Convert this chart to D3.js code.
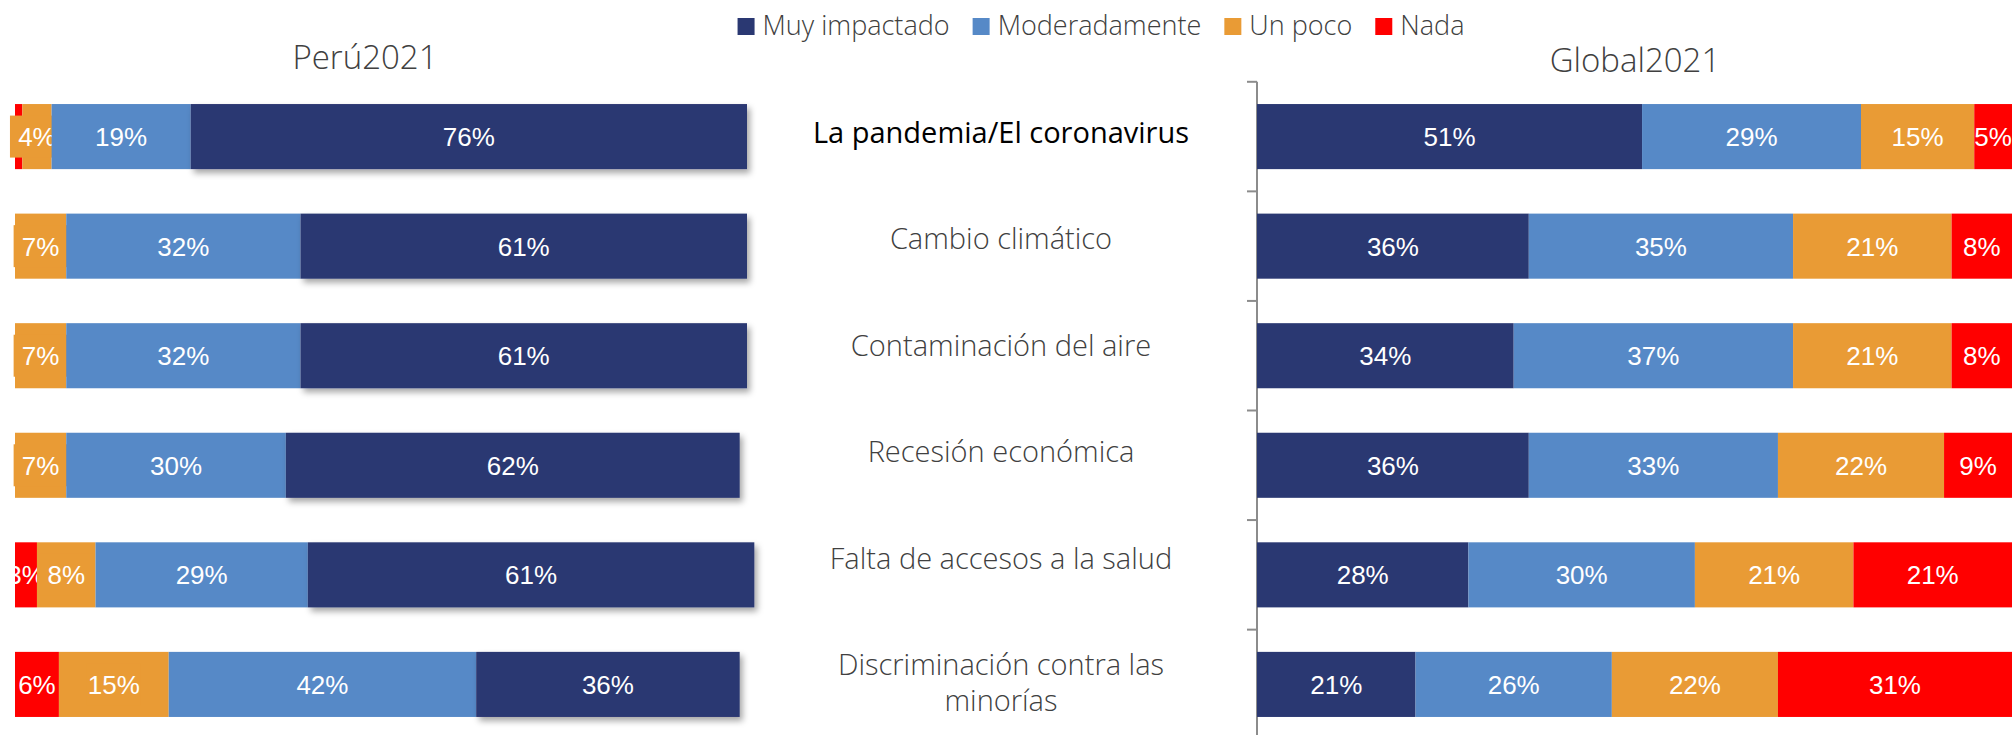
<!DOCTYPE html>
<html><head><meta charset="utf-8">
<script src="https://cdn.jsdelivr.net/npm/d3@7/dist/d3.min.js"></script>
<style>body{margin:0;background:#fff} svg{display:block}</style>
</head><body>
<svg id="chart" width="2012" height="735"></svg>
<script>
// ---------- data ----------
const categories = [
  "La pandemia/El coronavirus",
  "Cambio climático",
  "Contaminación del aire",
  "Recesión económica",
  "Falta de accesos a la salud",
  "Discriminación contra las minorías"
];
const categoryLines = [
  ["La pandemia/El coronavirus"],
  ["Cambio climático"],
  ["Contaminación del aire"],
  ["Recesión económica"],
  ["Falta de accesos a la salud"],
  ["Discriminación contra las", "minorías"]
];
const seriesNames = ["Muy impactado", "Moderadamente", "Un poco", "Nada"];
const seriesKeys  = ["muy", "mod", "poco", "nada"];
const seriesColors = ["#2A3872", "#5689C7", "#E99B35", "#FF0000"];

const peruMuy  = [76, 61, 61, 62, 61, 36];
const peruMod  = [19, 32, 32, 30, 29, 42];
const peruPoco = [4, 7, 7, 7, 8, 15];
const peruNada = [1, 0, 0, 0, 3, 6];

const globalMuy  = [51, 36, 34, 36, 28, 21];
const globalMod  = [29, 35, 37, 33, 30, 26];
const globalPoco = [15, 21, 21, 22, 21, 22];
const globalNada = [5, 8, 8, 9, 21, 31];

const panelTitles = ["Perú2021", "Global2021"];

// ---------- setup ----------
const svg = d3.select("#chart");
const lightFont = "'Open Sans', 'Segoe UI', sans-serif";
const labelFont = "'Liberation Sans', Arial, sans-serif";
const color = d3.scaleOrdinal().domain(seriesKeys).range(seriesColors);

const peruRows = categories.map((c, i) => ({cat: c, muy: peruMuy[i], mod: peruMod[i], poco: peruPoco[i], nada: peruNada[i]}));
const globalRows = categories.map((c, i) => ({cat: c, muy: globalMuy[i], mod: globalMod[i], poco: globalPoco[i], nada: globalNada[i]}));

const y = d3.scaleBand().domain(categories).range([81.8, 739.2]).paddingInner(0.406).paddingOuter(0.203);
const xPeru = d3.scaleLinear().domain([0, 100]).range([15, 747]);
const xGlobal = d3.scaleLinear().domain([0, 100]).range([1257, 2012]);

const defs = svg.append("defs");
const f = defs.append("filter").attr("id", "shadow").attr("x", "-5%").attr("y", "-20%").attr("width", "115%").attr("height", "150%");
f.append("feDropShadow").attr("dx", 3).attr("dy", 4).attr("stdDeviation", 3).attr("flood-color", "#000").attr("flood-opacity", 0.35);
defs.append("clipPath").attr("id", "peruClip").append("rect").attr("x", 15).attr("y", 0).attr("width", 1000).attr("height", 735);

// ---------- legend (centred) ----------
const legend = svg.append("g");
let lx = 0;
seriesNames.forEach((name, i) => {
  legend.append("rect").attr("x", lx).attr("y", 18).attr("width", 17).attr("height", 17).attr("fill", seriesColors[i]);
  const t = legend.append("text").attr("x", lx + 25).attr("y", 35)
    .attr("font-family", lightFont).attr("font-weight", 300).attr("font-size", 27).attr("fill", "#404040").text(name);
  lx += 25 + t.node().getComputedTextLength() + (i < seriesNames.length - 1 ? 23 : 0);
});
legend.attr("transform", `translate(${1101 - lx / 2},0)`);

// ---------- titles ----------
svg.append("text").attr("x", 365).attr("y", 69).attr("text-anchor", "middle")
  .attr("font-family", lightFont).attr("font-weight", 300).attr("font-size", 33).attr("fill", "#404040").text(panelTitles[0]);
svg.append("text").attr("x", 1635).attr("y", 72).attr("text-anchor", "middle")
  .attr("font-family", lightFont).attr("font-weight", 300).attr("font-size", 33).attr("fill", "#404040").text(panelTitles[1]);

// ---------- global axis ----------
const axisG = svg.append("g");
const bounds = categories.map(c => y(c) - y.step() * y.paddingInner() / 2);
bounds.push(bounds[bounds.length - 1] + y.step());
axisG.append("line").attr("x1", 1257).attr("x2", 1257).attr("y1", bounds[0]).attr("y2", bounds[bounds.length - 1])
  .attr("stroke", "#8c8c8c").attr("stroke-width", 2);
axisG.selectAll("line.tick").data(bounds).join("line").attr("class", "tick")
  .attr("x1", 1247).attr("x2", 1257).attr("y1", d => d).attr("y2", d => d)
  .attr("stroke", "#8c8c8c").attr("stroke-width", 2);

// ---------- bars ----------
function drawPanel(rows, keys, x, isPeru) {
  const stacked = d3.stack().keys(keys)(rows);
  const panel = svg.append("g");
  stacked.forEach(s => {
    const g = panel.append("g");
    g.selectAll("rect.seg").data(s.filter(d => d[1] - d[0] > 0)).join("rect").attr("class", "seg")
      .attr("x", d => x(d[0])).attr("y", d => y(d.data.cat))
      .attr("width", d => x(d[1]) - x(d[0])).attr("height", y.bandwidth())
      .attr("fill", color(s.key))
      .attr("filter", isPeru && s.key === "muy" ? "url(#shadow)" : null);
    // a 1% segment's label is hidden under the neighbouring label box in the original
    const labeled = s.filter(d => d[1] - d[0] >= 2);
    if (isPeru && s.key === "poco") {
      g.selectAll("rect.box").data(labeled).join("rect").attr("class", "box")
        .attr("x", d => (x(d[0]) + x(d[1])) / 2 - 27).attr("y", d => y(d.data.cat) + y.bandwidth() / 2 - 21)
        .attr("width", 54).attr("height", 42).attr("fill", color(s.key));
    }
    g.append("g").attr("clip-path", isPeru ? "url(#peruClip)" : null)
      .selectAll("text").data(labeled).join("text")
      .attr("x", d => (x(d[0]) + x(d[1])) / 2).attr("y", d => y(d.data.cat) + y.bandwidth() / 2)
      .attr("dy", "0.36em").attr("text-anchor", "middle")
      .attr("font-family", labelFont).attr("font-size", 26).attr("fill", "#fff")
      .text(d => (d[1] - d[0]) + "%");
  });
}
drawPanel(peruRows, ["nada", "poco", "mod", "muy"], xPeru, true);
drawPanel(globalRows, ["muy", "mod", "poco", "nada"], xGlobal, false);

// ---------- category labels ----------
const ly = d3.scalePoint().domain(categories).range([143, 675]);
const catG = svg.append("g");
categories.forEach((c, i) => {
  const t = catG.append("text").attr("text-anchor", "middle")
    .attr("font-family", lightFont).attr("font-size", 29)
    .attr("font-weight", i === 0 ? 400 : 300)
    .attr("fill", i === 0 ? "#000" : "#404040");
  categoryLines[i].forEach((line, j) => {
    t.append("tspan").attr("x", 1001).attr("y", ly(c) + j * 36).text(line);
  });
});
</script>
</body></html>
